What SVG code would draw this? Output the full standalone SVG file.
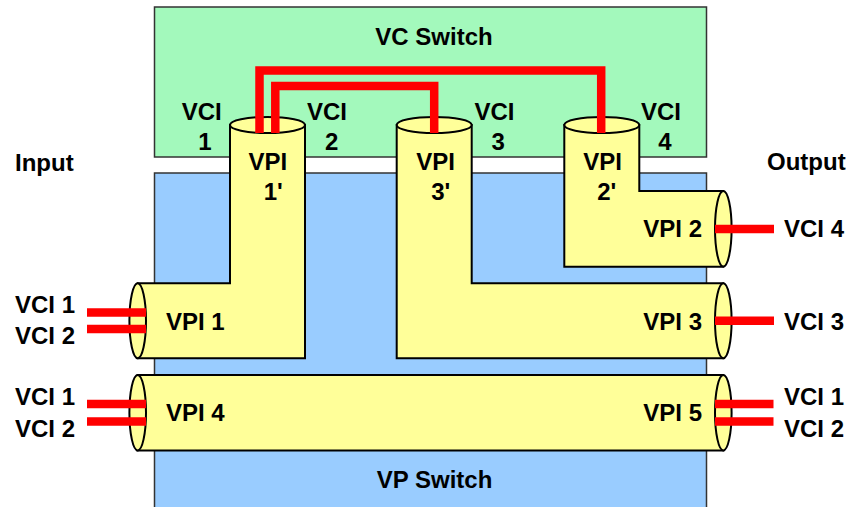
<svg xmlns="http://www.w3.org/2000/svg" width="854" height="507" viewBox="0 0 854 507">
<style>
.box{stroke:#333;stroke-width:1.5}
.tube{fill:#FFFF99;stroke:#000;stroke-width:2;stroke-linejoin:miter}
.wire{fill:none;stroke:#FF0000;stroke-width:8.5;stroke-linejoin:miter;stroke-linecap:butt}
text{font-family:"Liberation Sans",Arial,Helvetica,sans-serif;font-weight:bold;font-size:24px;fill:#000}
.m{text-anchor:middle}
.e{text-anchor:end}
</style>
<rect width="854" height="507" fill="#fff"/>
<g id="vc-switch">
<rect class="box" x="154.5" y="7" width="552" height="150" fill="#A3F9BC"/>
<text class="m" x="434" y="45">VC Switch</text>
</g>
<g id="vp-switch">
<rect class="box" x="154.5" y="173" width="552" height="340" fill="#99CCFF"/>
<text class="m" x="434.5" y="488">VP Switch</text>
</g>
<g id="vpi1">
<path class="tube" d="M137.7,283.3 H230 V125 H305 V358.3 H137.7 Z"/>
<ellipse class="tube" cx="267.5" cy="125" rx="37.5" ry="8"/>
<ellipse class="tube" cx="137.7" cy="320.8" rx="8.3" ry="37.5"/>
</g>
<g id="vpi3">
<path class="tube" d="M396.7,125 H471.7 V283.3 H723.3 V358.3 H396.7 Z"/>
<ellipse class="tube" cx="434.2" cy="125" rx="37.5" ry="8"/>
<ellipse class="tube" cx="723.3" cy="320.8" rx="8.3" ry="37.5"/>
</g>
<g id="vpi2">
<path class="tube" d="M564.3,125 H639.3 V191 H723.3 V266.7 H564.3 Z"/>
<ellipse class="tube" cx="601.8" cy="125" rx="37.5" ry="8"/>
<ellipse class="tube" cx="723.3" cy="228.8" rx="8.3" ry="37.8"/>
</g>
<g id="vpi4-5">
<rect class="tube" x="137.5" y="375" width="585.8" height="75.5"/>
<ellipse class="tube" cx="137.7" cy="412.7" rx="8.3" ry="37.7"/>
<ellipse class="tube" cx="723.3" cy="412.7" rx="8.3" ry="37.7"/>
</g>
<g id="connectors">
<path class="wire" d="M259.5,133 V70.5 H601.2 V133"/>
<path class="wire" d="M275.3,133 V86 H434.2 V133"/>
<path class="wire" d="M87,312.5 H146 M87,329 H146"/>
<path class="wire" d="M87,404 H146 M87,421.5 H146"/>
<path class="wire" d="M715,229 H774 M715,320.8 H774"/>
<path class="wire" d="M715,404 H773.5 M715,421.5 H773.5"/>
</g>
<g id="labels">
<text x="15" y="170.5">Input</text>
<text x="767" y="170">Output</text>
<text class="m" x="201.7" y="120">VCI</text>
<text class="m" x="205" y="150">1</text>
<text class="m" x="327" y="120">VCI</text>
<text class="m" x="331.7" y="150">2</text>
<text class="m" x="494.5" y="120">VCI</text>
<text class="m" x="498.3" y="150">3</text>
<text class="m" x="661" y="120">VCI</text>
<text class="m" x="665" y="150">4</text>
<text class="m" x="267.8" y="170">VPI</text>
<text class="m" x="273.3" y="200">1'</text>
<text class="m" x="435.5" y="170">VPI</text>
<text class="m" x="440.8" y="200">3'</text>
<text class="m" x="602.5" y="170">VPI</text>
<text class="m" x="606.7" y="200">2'</text>
<text x="166" y="330">VPI 1</text>
<text class="e" x="702" y="237">VPI 2</text>
<text class="e" x="702" y="330">VPI 3</text>
<text x="166" y="421">VPI 4</text>
<text class="e" x="702" y="421">VPI 5</text>
<text x="15" y="313.3">VCI 1</text>
<text x="15" y="344.3">VCI 2</text>
<text x="15" y="405">VCI 1</text>
<text x="15" y="436.7">VCI 2</text>
<text x="784" y="237.3">VCI 4</text>
<text x="784" y="330">VCI 3</text>
<text x="784" y="405">VCI 1</text>
<text x="784" y="437">VCI 2</text>
</g>
</svg>
